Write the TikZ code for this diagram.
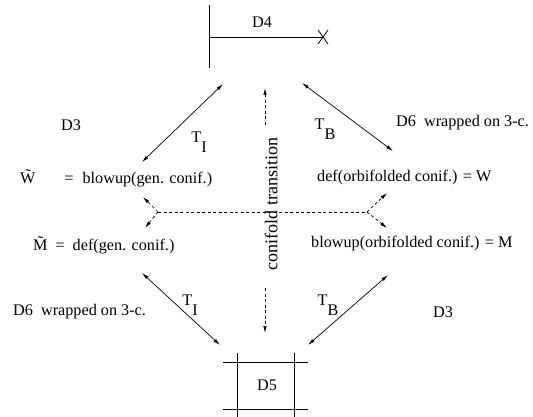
\documentclass[tikz,border=0pt]{standalone}
\usepackage{fontspec}
\setmainfont{Liberation Serif}
\usetikzlibrary{arrows.meta, calc}
\tikzstyle{txt} = [inner sep=0pt, font=\fontsize{16.2}{19}\selectfont]
\tikzstyle{twoway} = [{Latex[length=7pt,width=3.5pt]}-{Latex[length=7pt,width=3.5pt]}, line width=0.7pt]
\tikzstyle{flow} = [-{Latex[length=7pt,width=3.5pt]}, dash pattern=on 3pt off 2.5pt, line width=0.7pt]
\tikzstyle{bar} = [line width=0.8pt]

\begin{document}
\begin{tikzpicture}[x=1pt, y=-1pt]
		\useasboundingbox (0,0) rectangle (533,417);

		% brane pictures
		\coordinate (d4top)   at (209,  5);
		\coordinate (d4bot)   at (209,  68);
		\coordinate (d4left)  at (209,  37);
		\coordinate (d4end)   at (323,  37);
		\coordinate (d5west)  at (223,  0);
		\coordinate (d5east)  at (308,  0);
		\coordinate (d5lo)    at (237,  353);
		\coordinate (d5ro)    at (294,  353);

		% arrow ends
		\coordinate (tlA) at (223, 84);
		\coordinate (tlB) at (142, 162);
		\coordinate (trA) at (302, 83);
		\coordinate (trB) at (393, 151);
		\coordinate (blA) at (142, 273);
		\coordinate (blB) at (220, 345);
		\coordinate (brA) at (388, 275);
		\coordinate (brB) at (308, 345);
		\coordinate (upS) at (265, 125);
		\coordinate (upE) at (265, 88);
		\coordinate (dnS) at (265, 288);
		\coordinate (dnE) at (265, 333);
		\coordinate (brL) at (158, 212);
		\coordinate (brR) at (367, 212);
		\coordinate (brLu) at (143, 197);
		\coordinate (brLd) at (145, 228);
		\coordinate (brRu) at (387, 193);
		\coordinate (brRd) at (387, 228);

		\node[txt] (D4) at (262, 22) {D4};
		\node[txt] (D5) at (267, 385) {D5};
		\node[txt] (D3a) at (71, 125) {D3};
		\node[txt] (D3b) at (443, 312) {D3};
		\node[txt, anchor=west] (D6a) at (396, 123) {D6\ \ wrapped on 3-c.};
		\node[txt, anchor=west] (D6b) at (13, 312) {D6\ \ wrapped on 3-c.};

		\node[txt, anchor=west] (Wt) at (20, 178) {\~{W}\hspace{29pt}=\hspace{9pt}blowup(gen. conif.)};
		\node[txt, anchor=west] (Mt) at (33, 245) {\~{M}\hspace{8pt}=\hspace{8pt}def(gen. conif.)};
		\node[txt, anchor=west] (W) at (317, 178) {def(orbifolded conif.) = W};
		\node[txt, anchor=west] (M) at (311, 244) {blowup(orbifolded conif.) = M};

		\node[txt] (TI1) at (199, 142) {T\raisebox{-0.62em}{I}};
		\node[txt] (TB1) at (325, 129) {T\raisebox{-0.62em}{B}};
		\node[txt] (TI2) at (190, 305) {T\raisebox{-0.62em}{I}};
		\node[txt] (TB2) at (328, 305) {T\raisebox{-0.62em}{B}};
		\node[txt, font=\fontsize{18}{20}\selectfont, rotate=90] (CT) at (271, 204) {conifold transition};

		% D4 ending on the D6
		\draw[bar] (d4top) -- (d4bot);
		\draw[bar] (d4left) -- (d4end);
		\draw[bar] ($(d4end) + (-5,-7)$) -- ($(d4end) + (5,7)$);
		\draw[bar] ($(d4end) + (-5,7)$) -- ($(d4end) + (5,-7)$);

		% D5 box
		\draw[bar] (d5west |- 0,362) -- (d5east |- 0,362);
		\draw[bar] (d5west |- 0,409) -- (d5east |- 0,409);
		\draw[bar] (d5lo) -- (d5lo |- 0,417);
		\draw[bar] (d5ro) -- (d5ro |- 0,417);

		% T-dualities
		\draw[twoway] (tlA) -- (tlB);
		\draw[twoway] (trA) -- (trB);
		\draw[twoway] (blA) -- (blB);
		\draw[twoway] (brA) -- (brB);

		% conifold transition
		\draw[flow] (upS) -- (upE);
		\draw[flow] (dnS) -- (dnE);
		\draw[flow, -] (brL) -- (brR);
		\draw[flow] (brL) -- (brLu);
		\draw[flow] (brL) -- (brLd);
		\draw[flow] (brR) -- (brRu);
		\draw[flow] (brR) -- (brRd);

	\end{tikzpicture}
\end{document}
